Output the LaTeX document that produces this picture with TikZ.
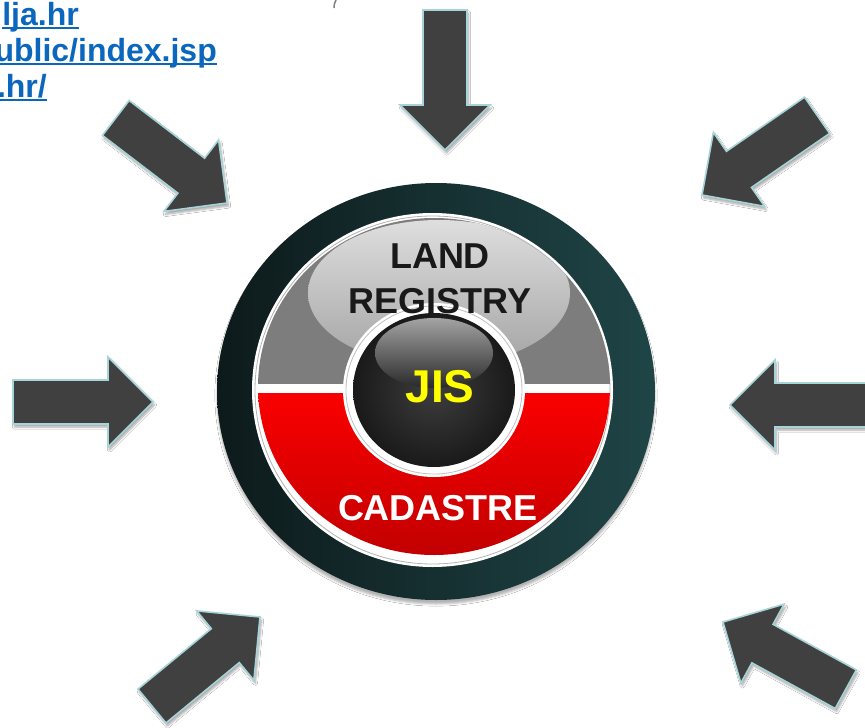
\documentclass[tikz,border=0pt]{standalone}
\usepackage{fontspec}
\setmainfont{Liberation Sans}
\usetikzlibrary{shadows.blur}
\definecolor{linkblue}{HTML}{0B67BD}
\definecolor{arrowgray}{HTML}{404040}
\definecolor{arrowedge}{HTML}{A6D4D8}
\definecolor{ringleft}{HTML}{0D1A1B}
\definecolor{ringright}{HTML}{1F4547}
\definecolor{graybase}{HTML}{7D7D7D}
\definecolor{hitop}{HTML}{DEDEDE}
\definecolor{hibot}{HTML}{A4A4A4}
\definecolor{redtop}{HTML}{FA0000}
\definecolor{redbot}{HTML}{C20000}
\definecolor{jisyellow}{HTML}{FFFF00}
\tikzset{
  bigarrow/.style={fill=arrowgray, draw=arrowedge, line width=1.6pt, line join=miter,
    blur shadow={shadow xshift=1.5pt, shadow yshift=-3pt, shadow blur steps=6, shadow opacity=35}},
  pics/fatarrow/.style={code={
    \path[bigarrow] (0,0) -- (-45,45) -- (-45,22) -- (-140,22) -- (-140,-22) -- (-45,-22) -- (-45,-45) -- cycle;}},
  linktext/.style={font=\bfseries\fontsize{32}{32}\selectfont, text=linkblue, inner sep=0pt, anchor=base east},
  uline/.style={draw=linkblue, line width=2.2pt},
  bigcaps/.style={font=\bfseries\fontsize{36}{36}\selectfont, inner sep=0pt, anchor=base},
}
\begin{document}
\begin{tikzpicture}[x=1pt,y=-1pt]
\useasboundingbox (0,0) rectangle (865,728);
\fill[white] (0,0) rectangle (865,728);

% links (cut off at the left edge, as in the reference)
\node[linktext] (l1) at (79,25) {lja.hr};
\node[linktext] (l2) at (217,61) {ublic/index.jsp};
\node[linktext] (l3) at (47,97) {.hr/};
\draw[uline] ([yshift=-3pt]l1.base west) -- ([yshift=-3pt]l1.base east);
\draw[uline] ([yshift=-3pt]l2.base west) -- ([yshift=-3pt]l2.base east);
\draw[uline] ([yshift=-3pt]l3.base west) -- ([yshift=-3pt]l3.base east);

% tiny fragment at the top
\draw[gray, line width=1.5pt] (336,0) to[bend right=15] (334,8);

% arrows
\path (445,150) pic[rotate=-90] {fatarrow};
\path (227,203) pic[rotate=-37.4] {fatarrow};
\path (702,195) pic[rotate=-145.3] {fatarrow};
\path (153,402) pic[rotate=0] {fatarrow};
\path (730,405) pic[rotate=180] {fatarrow};
\path (260,617) pic[rotate=39.5] {fatarrow};
\path (723,622) pic[rotate=151.3] {fatarrow};

% ring
\path[left color=ringleft, right color=ringright,
  blur shadow={shadow xshift=0pt, shadow yshift=-4pt, shadow opacity=30}]
  (436,391.5) ellipse [x radius=219, y radius=208.5];
\fill[white] (432.5,390) ellipse [x radius=180.5, y radius=177];
\draw[gray!60, line width=0.8pt] (432.5,390) ellipse [x radius=177.5, y radius=174];

\begin{scope}
  \clip (0,0) rectangle (865,383);
  \fill[graybase] (434,386.5) ellipse [x radius=176, y radius=168.5];
  \clip (434,386.5) ellipse [x radius=176, y radius=168.5];
  \shade[top color=hitop, bottom color=hibot] (439,293) ellipse [x radius=131, y radius=73];
\end{scope}
\begin{scope}
  \clip (434,386.5) ellipse [x radius=176, y radius=168.5];
  \shade[top color=redtop, bottom color=redbot] (250,393) rectangle (620,556);
\end{scope}

% centre
\fill[white] (434,390) ellipse [x radius=91, y radius=87];
\draw[gray!50, line width=0.8pt] (434,390) ellipse [x radius=88, y radius=84];
\shade[inner color=black!76, outer color=black!90] (434,390) ellipse [x radius=81, y radius=77];
\shade[top color=black!36, bottom color=black!84] (434,353) ellipse [x radius=59, y radius=35];

% texts
\node[bigcaps, text=black!90] (land) at (440,268) {LAND};
\node[bigcaps, text=black!90] (registry) at (440,313) {REGISTRY};
\node[bigcaps, text=jisyellow, font=\bfseries\fontsize{46}{46}\selectfont] (jis) at (440,402) {JIS};
\node[bigcaps, text=white] (cadastre) at (438,520) {CADASTRE};
\end{tikzpicture}
\end{document}
